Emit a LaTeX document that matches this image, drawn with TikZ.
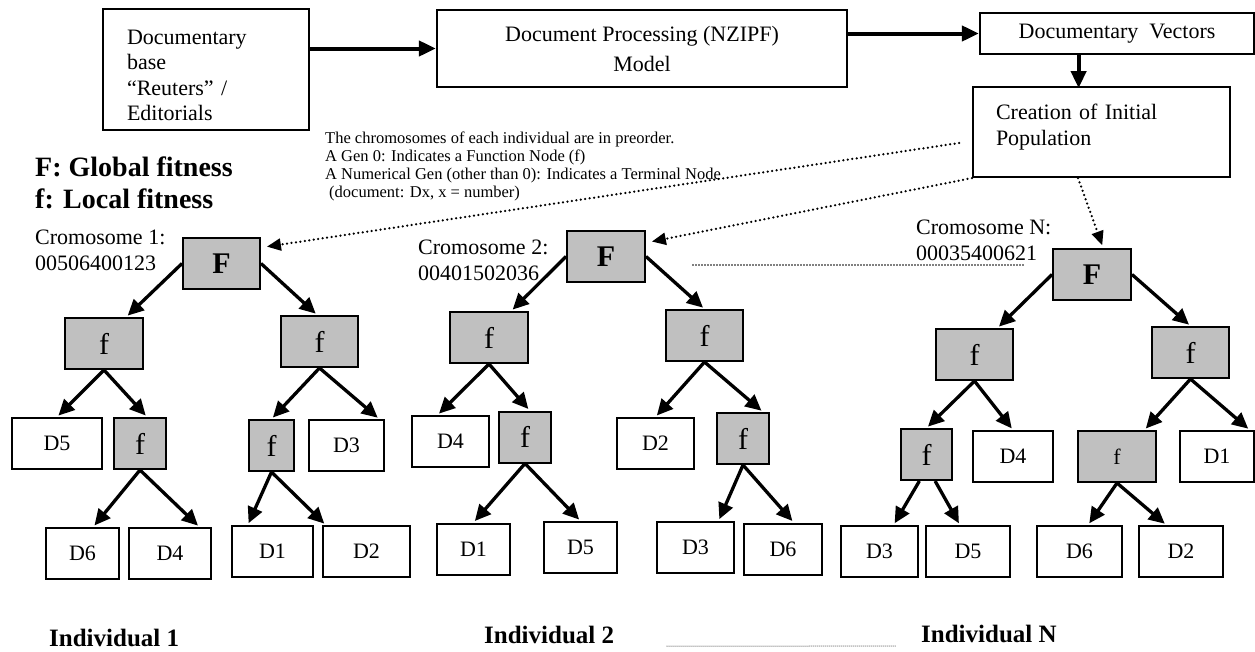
\documentclass[tikz,border=0pt]{standalone}
\usepackage{fontspec}
\setmainfont{Liberation Serif}
\usetikzlibrary{arrows.meta,calc}

\definecolor{boxgray}{RGB}{192,192,192}

\tikzset{
  leaf/.style={draw, line width=2pt, fill=white, minimum height=51pt, inner sep=0pt,
    font=\fontsize{22}{26}\selectfont},
  func/.style={leaf, fill=boxgray, font=\fontsize{30}{32}\selectfont},
  root/.style={leaf, fill=boxgray, font=\fontsize{30}{32}\selectfont\bfseries},
  topbox/.style={draw, line width=2.2pt, inner sep=0pt, font=\fontsize{22}{26}\selectfont},
  edge/.style={line width=3.3pt, -{Triangle[length=16pt,width=15pt]}, shorten >=2pt},
  flow/.style={line width=4pt, -{Triangle[length=17pt,width=15pt]}},
  link/.style={line width=2.5pt, line cap=round, dash pattern=on 0pt off 4.5pt,
    -{Triangle[length=14pt,width=12pt]}},
  hint/.style={line width=1.6pt, line cap=round, dash pattern=on 0pt off 3pt},
  label/.style={anchor=west, align=left, inner sep=0pt, font=\fontsize{22}{26}\selectfont},
  title/.style={anchor=west, inner sep=0pt, font=\fontsize{28}{32}\selectfont\bfseries},
  indiv/.style={anchor=west, inner sep=0pt, font=\fontsize{25}{28}\selectfont\bfseries},
}

\begin{document}
\begin{tikzpicture}[x=1pt, y=-1pt]
  \useasboundingbox (0,0) rectangle (1255,651);

  % top chain
  \node[topbox, minimum width=206pt, minimum height=121pt, text width=158pt, align=left,
    font=\fontsize{22}{25.5}\selectfont]
    (base) at (206,69.5) {\rule{0pt}{26pt}Documentary\\base\\“Reuters” /\\Editorials};
  \node[topbox, minimum width=410pt, minimum height=77pt, align=center,
    font=\fontsize{22}{30}\selectfont]
    (proc) at (642,48.5) {Document Processing (NZIPF)\\Model};
  \node[topbox, minimum width=274pt, minimum height=41pt] (vect) at (1117,33.5)
    {Documentary\ \ Vectors};
  \node[topbox, minimum width=257pt, minimum height=90pt, text width=211pt, align=left]
    (init) at (1101.5,132) {Creation of Initial\\Population\rule[-14pt]{0pt}{1pt}};

  \draw[flow] (base.east |- proc.west) -- (proc.west);
  \draw[flow] (proc.east |- vect.west) -- (vect.west);
  \draw[flow] ($(vect.south west)!0.361!(vect.south east)$) -- ++(0,33);

  \node[anchor=west, align=left, inner sep=0pt, font=\fontsize{16.5}{18}\selectfont]
    (notes) at (325,166) {The chromosomes of each individual are in preorder.\\
    A Gen 0: Indicates a Function Node (f)\\
    A Numerical Gen (other than 0): Indicates a Terminal Node\\
    \hspace{4pt}(document: Dx, x = number)};

  \node[title] (glob) at (35,167) {F: Global fitness};
  \node[title] (loc) at (35,199) {f: Local fitness};

  % individual 1
  \node[label] (crom1) at (35,250) {Cromosome 1:\\00506400123};
  \node[root, minimum width=77pt] (aF) at (221.5,263.5) {F};
  \node[func, minimum width=78pt] (afL) at (104,343.5) {f};
  \node[func, minimum width=77pt] (afR) at (319.5,341.5) {f};
  \node[leaf, minimum width=90pt] (aD5) at (57,443.5) {D5};
  \node[func, minimum width=52pt] (afLR) at (140,443.5) {f};
  \node[func, minimum width=45pt] (afRL) at (271.5,445.5) {f};
  \node[leaf, minimum width=75pt] (aD3) at (346.5,445.5) {D3};
  \node[leaf, minimum width=73pt] (aD6) at (82.5,553.5) {D6};
  \node[leaf, minimum width=82pt] (aD4) at (170,553.5) {D4};
  \node[leaf, minimum width=81pt] (aD1) at (272.5,551.5) {D1};
  \node[leaf, minimum width=87pt] (aD2) at (366.5,551.5) {D2};
  \draw[edge] (aF.west) -- (afL.50);
  \draw[edge] (aF.east) -- (afR.95);
  \draw[edge] (afL.south) -- (aD5.north);
  \draw[edge] (afL.south) -- (afLR.75);
  \draw[edge] (afR.south) -- (afRL.north);
  \draw[edge] (afR.south) -- (aD3.39);
  \draw[edge] (afLR.south) -- (aD6.68);
  \draw[edge] (afLR.south) -- (aD4.42);
  \draw[edge] (afRL.south) -- (aD1.133);
  \draw[edge] (afRL.south) -- (aD2.147);
  \node[indiv] (ind1) at (49,638) {Individual 1};

  % individual 2
  \node[label] (crom2) at (418,260) {Cromosome 2:\\00401502036};
  \node[root, minimum width=78pt] (bF) at (606,256.5) {F};
  \node[func, minimum width=78pt] (bfL) at (489,337.5) {f};
  \node[func, minimum width=77pt] (bfR) at (704.5,335.5) {f};
  \node[leaf, minimum width=77pt] (bD4) at (450.5,441.5) {D4};
  \node[func, minimum width=52pt] (bfLR) at (525,437) {f};
  \node[leaf, minimum width=77pt] (bD2) at (655.5,443.5) {D2};
  \node[func, minimum width=52pt] (bfRR) at (743,438.5) {f};
  \node[leaf, minimum width=73pt] (bD1) at (473.5,549) {D1};
  \node[leaf, minimum width=73pt] (bD5) at (580.5,547.5) {D5};
  \node[leaf, minimum width=77pt] (bD3) at (695.5,547.5) {D3};
  \node[leaf, minimum width=78pt] (bD6) at (783,549) {D6};
  \draw[edge] (bF.west) -- (bfL.50);
  \draw[edge] (bF.east) -- (bfR.north);
  \draw[edge] (bfL.south) -- (bD4.116);
  \draw[edge] (bfL.south) -- (bfLR.80);
  \draw[edge] (bfR.south) -- (bD2.north);
  \draw[edge] (bfR.south) -- (bfRR.53);
  \draw[edge] (bfLR.south) -- (bD1.north);
  \draw[edge] (bfLR.south) -- (bD5.north);
  \draw[edge] (bfRR.south) -- (bD3.49);
  \draw[edge] (bfRR.south) -- (bD6.68);
  \node[indiv] (ind2) at (484,635) {Individual 2};

  % individual N
  \node[label] (cromN) at (916,240) {Cromosome N:\\00035400621};
  \node[root, minimum width=78pt] (nF) at (1092,274.5) {F};
  \node[func, minimum width=77pt] (nfL) at (974.5,354.5) {f};
  \node[func, minimum width=77pt] (nfR) at (1190.5,352.5) {f};
  \node[func, minimum width=51pt] (nfLL) at (926.5,454.5) {f};
  \node[leaf, minimum width=80pt] (nD4) at (1013,456.5) {D4};
  \node[func, minimum width=78pt, font=\fontsize{22}{26}\selectfont] (nfRL) at (1117,456.5) {f};
  \node[leaf, minimum width=74pt] (nD1) at (1217,456.5) {D1};
  \node[leaf, minimum width=77pt] (nD3) at (879.5,551.5) {D3};
  \node[leaf, minimum width=84pt] (nD5) at (968,551.5) {D5};
  \node[leaf, minimum width=85pt] (nD6) at (1079.5,551.5) {D6};
  \node[leaf, minimum width=84pt] (nD2) at (1181,551.5) {D2};
  \draw[edge] (nF.west) -- (nfL.49);
  \draw[edge] (nF.east) -- (nfR.north);
  \draw[edge] (nfL.south) -- (nfLL.north);
  \draw[edge] (nfL.south) -- (nD4.north);
  \draw[edge] (nfR.south) -- (nfRL.44);
  \draw[edge] (nfR.south) -- (nD1.39);
  \draw[edge] (nfLL.-105) -- (nD3.62);
  \draw[edge] (nfLL.-72) -- (nD5.107);
  \draw[edge] (nfRL.south) -- (nD6.72);
  \draw[edge] (nfRL.south) -- (nD2.119);
  \node[indiv] (indN) at (921,634) {Individual N};

  % population links
  \draw[link, shorten <=13pt, shorten >=6pt] (init.184.9) -- (aF.22);
  \draw[link, shorten >=6pt] (init.south west) -- (bF.19);
  \draw[link, shorten >=3pt] (init.243) -- (nF.67);
  \coordinate (gapL) at (693,265);
  \coordinate (gapR) at (1024,265);
  \draw[hint] (gapL) -- (gapR);
  \coordinate (dotsL) at (667,646);
  \coordinate (dotsR) at (895,646);
  \draw[hint, line width=1pt, dash pattern=on 0pt off 2pt] (dotsL) -- (dotsR);
\end{tikzpicture}
\end{document}
